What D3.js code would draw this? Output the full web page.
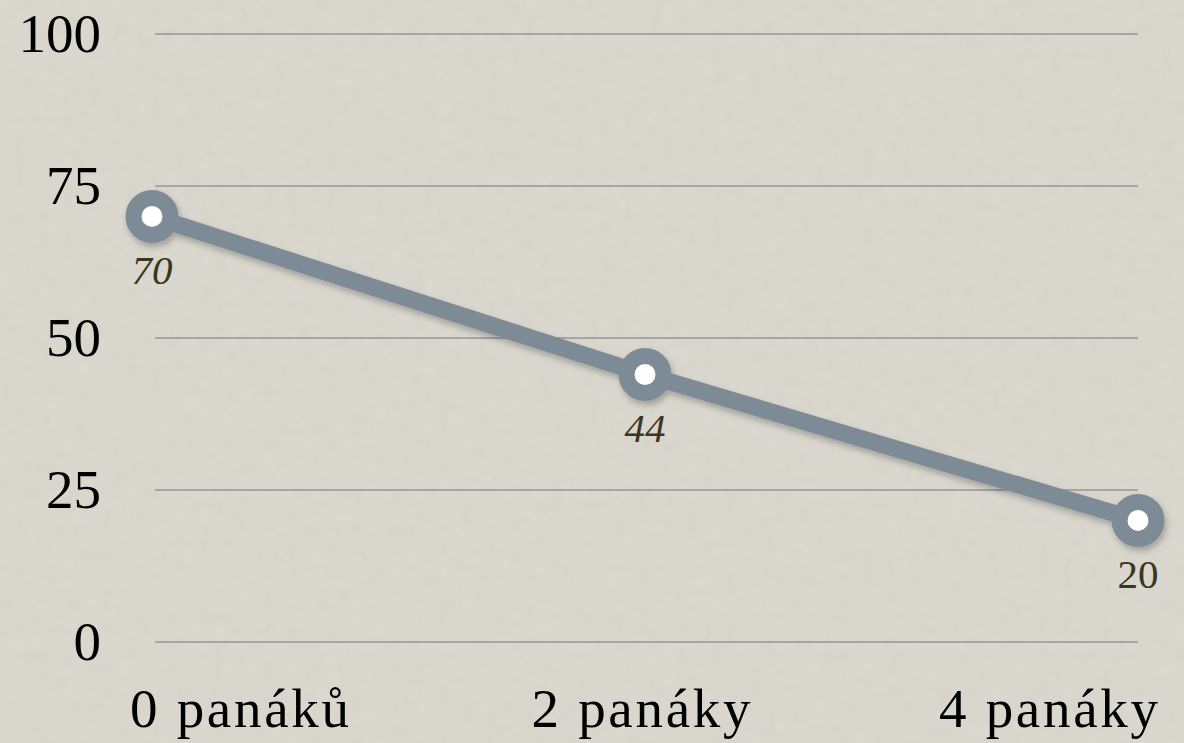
<!DOCTYPE html>
<html><head><meta charset="utf-8">
<script src="https://cdn.jsdelivr.net/npm/d3@7"></script>
<style>html,body{margin:0;padding:0;background:#dcd9d0;}svg{display:block;}</style>
</head><body>
<script>
const categories = ["0 panáků", "2 panáky", "4 panáky"];
const values = [70, 44, 20];
const yTicks = [0, 25, 50, 75, 100];

const W = 1184, H = 743;
const svg = d3.select("body").append("svg").attr("width", W).attr("height", H);
const defs = svg.append("defs");
const noise = defs.append("filter").attr("id","noise").attr("x",0).attr("y",0).attr("width","100%").attr("height","100%");
noise.append("feTurbulence").attr("type","fractalNoise").attr("baseFrequency",0.08).attr("numOctaves",3).attr("seed",4).attr("result","t");
noise.append("feColorMatrix").attr("type","matrix").attr("values","0 0 0 0 0.5  0 0 0 0 0.5  0 0 0 0 0.45  0 0 0 0.2 0");
const shadow = defs.append("filter").attr("id","sh").attr("x","-20%").attr("y","-20%").attr("width","140%").attr("height","160%");
shadow.append("feDropShadow").attr("dx",2).attr("dy",4).attr("stdDeviation",3).attr("flood-color","#000").attr("flood-opacity",0.25);

svg.append("rect").attr("width",W).attr("height",H).attr("fill","#dcd9d0");
svg.append("rect").attr("width",W).attr("height",H).attr("filter","url(#noise)");

const x = d3.scalePoint().domain(categories).range([152, 1138]);
const y = d3.scaleLinear().domain([0, 100]).range([642, 34]);

const font = "'Liberation Serif', 'DejaVu Serif', serif";

svg.append("g").selectAll("line").data(yTicks).join("line")
  .attr("x1", 155).attr("x2", 1138)
  .attr("y1", d => y(d)).attr("y2", d => y(d))
  .attr("stroke", "#a8a6a2").attr("stroke-width", 2);

svg.append("g").selectAll("text").data(yTicks).join("text")
  .attr("x", 101).attr("y", d => y(d) + 18)
  .attr("text-anchor", "end")
  .attr("font-family", font).attr("font-size", 55).attr("fill", "#000")
  .text(d => d);

svg.append("g").selectAll("text").data(categories).join("text")
  .attr("x", (d,i) => i === 0 ? 130 : i === categories.length-1 ? 1158 : x(d) - 4)
  .attr("y", 727)
  .attr("text-anchor", (d,i) => i === 0 ? "start" : i === categories.length-1 ? "end" : "middle")
  .attr("font-family", font).attr("font-size", 55).attr("fill", "#000")
  .attr("textLength", 219).attr("lengthAdjust", "spacing")
  .text(d => d);

const pts = categories.map((c,i) => ({c, v: values[i]}));
const g = svg.append("g").attr("filter","url(#sh)");
g.append("path").datum(pts)
  .attr("d", d3.line().x(d => x(d.c)).y(d => y(d.v)))
  .attr("fill","none").attr("stroke","#7b8b95").attr("stroke-width",17);
g.selectAll("circle").data(pts).join("circle")
  .attr("cx", d => x(d.c)).attr("cy", d => y(d.v)).attr("r", 18.5)
  .attr("fill", "#fff").attr("stroke", "#7b8b95").attr("stroke-width", 16);

svg.append("g").selectAll("text").data(pts).join("text")
  .attr("x", d => x(d.c)).attr("y", d => y(d.v) + 68)
  .attr("text-anchor", "middle")
  .attr("font-family", font).attr("font-size", 41).attr("fill", "#3b3622")
  .attr("font-style", (d,i) => i < 2 ? "italic" : "normal")
  .text(d => d.v);
</script>
</body></html>
